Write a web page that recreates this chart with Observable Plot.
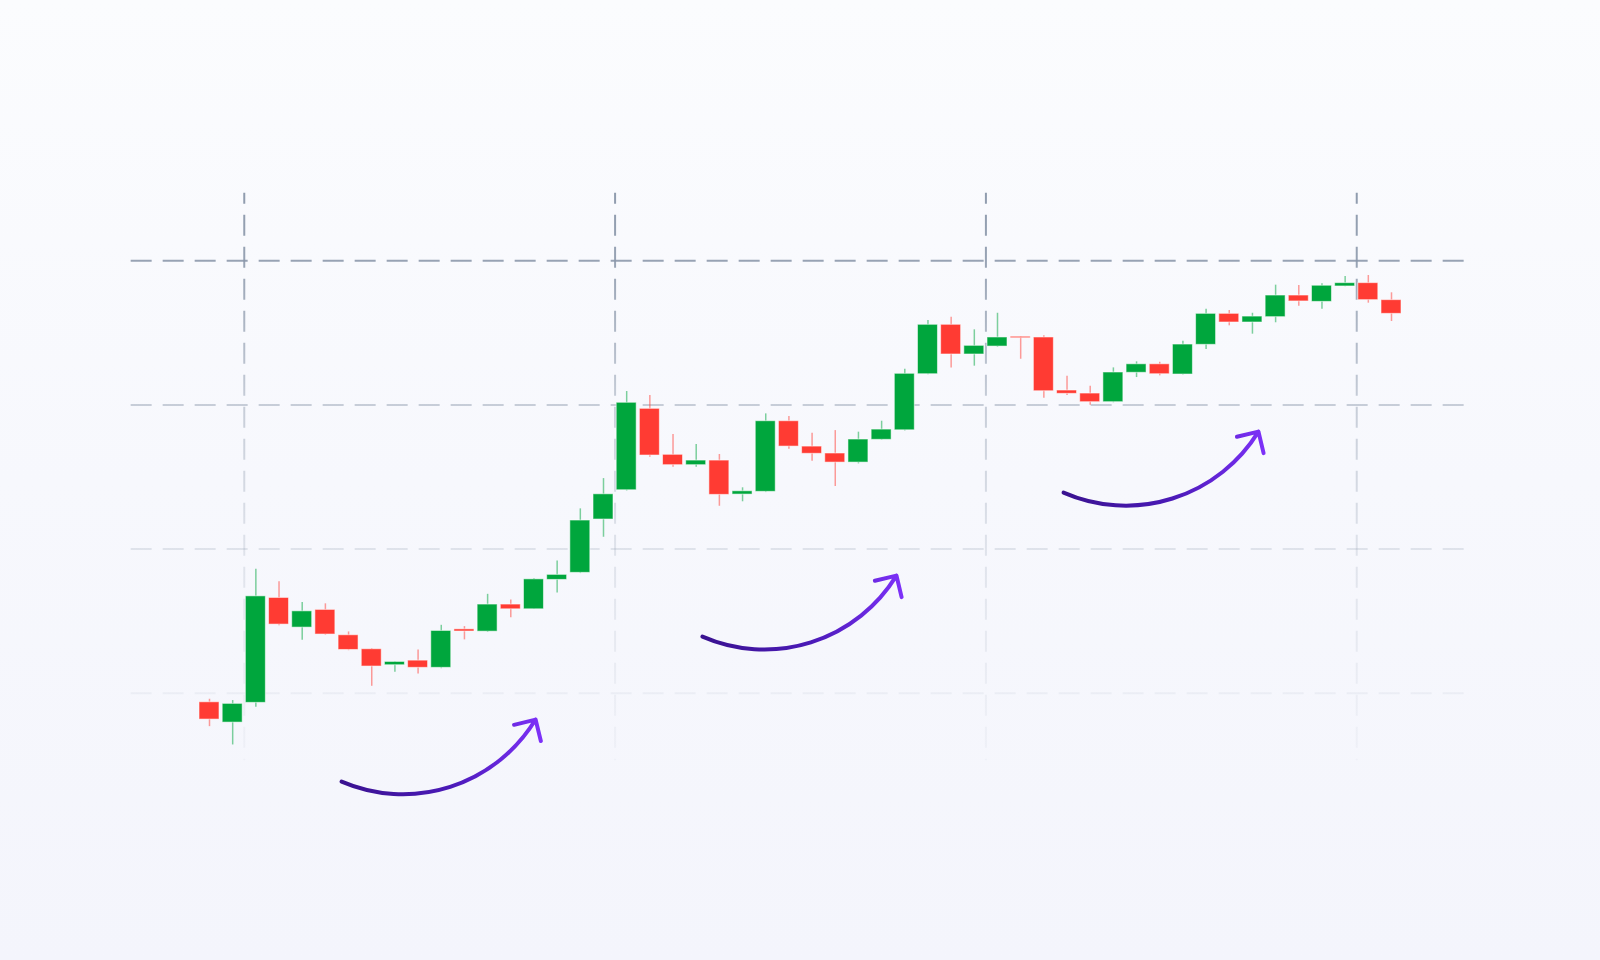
<!DOCTYPE html>
<html>
<head>
<meta charset="utf-8">
<script src="https://cdn.jsdelivr.net/npm/d3@7"></script>
<script src="https://cdn.jsdelivr.net/npm/@observablehq/plot@0.6"></script>
<style>
  html, body { margin: 0; padding: 0; width: 1600px; height: 960px; overflow: hidden; }
  body { background: linear-gradient(to bottom, #fbfcfe 0%, #f7f8fd 50%, #f4f5fc 100%); font-family: Inter, "Noto Sans", sans-serif; }
  #chart svg { display: block; }
</style>
</head>
<body>
<div id="chart"></div>
<script>
// Candle values (price units), one per session
const opens  = [93.7, 79.6, 93.3, 166.1, 145.5, 157.8, 140.2, 130.5, 119.4, 122.6, 117.6, 144.3, 142.7, 161.5, 158.2, 178.6, 183.5, 220.5, 240.8, 297.3, 265.4, 258.2, 261.4, 237.8, 239.7, 288.7, 271.1, 266.3, 260, 275.8, 282.4, 321.3, 355.6, 335, 340.5, 347.3, 346.8, 310, 307.9, 301.9, 322.3, 328.2, 321.1, 341.7, 363.2, 357.2, 360.9, 375.9, 371.5, 382.2, 384.5, 372.7];
const closes = [81.7, 92.6, 167.2, 147.6, 156.8, 140.7, 130, 118.5, 121.7, 117.6, 143.2, 142.8, 161.5, 158.2, 179, 182.1, 219.8, 238, 301.5, 264.9, 258.2, 261.4, 237.6, 240.1, 288.7, 271.1, 266.1, 260, 276, 282.9, 321.6, 355.6, 335, 341, 346.8, 346.3, 309.5, 307.7, 301.9, 322.5, 328.2, 321.3, 341.9, 363.2, 357.2, 361.3, 375.9, 371.8, 382.7, 384.5, 372.7, 363.2];
const highs  = [95.8, 94.9, 186, 177.4, 162.9, 162, 142.5, 131, 122, 130, 147.1, 146.2, 168.6, 164.7, 179.5, 191.8, 227.9, 248.9, 309.3, 306.5, 279.5, 272.5, 265.6, 242.5, 293.8, 292, 280.4, 282.2, 281.1, 288.7, 324.8, 358.6, 360.9, 352.1, 363.6, 347.5, 348, 319.9, 313, 325.7, 329.9, 329.6, 344.2, 366.4, 365.5, 363.6, 383.1, 382.9, 384, 389.1, 389.8, 377.8];
const lows   = [76.8, 64.1, 90.2, 146.8, 136.7, 140.2, 129.5, 104.8, 114.5, 113.4, 117, 137, 142.2, 152.3, 158, 169.6, 183, 208.2, 240.3, 263.7, 256.8, 256.8, 229.7, 232.8, 239.2, 269.3, 260.9, 243.4, 259.1, 275.5, 282, 321, 325.7, 326.9, 340, 331.7, 304.7, 306.5, 299.8, 301.5, 319, 320.2, 320.8, 338.4, 354.9, 349.1, 357, 368.5, 366.4, 382, 370.6, 357.9];

// Grid (tick) positions
const yGridValues = [100, 200, 300, 400];
const xGridValues = [1.5, 17.5, 33.5, 49.5];

// Trend arrows (annotation anchors, in data units: session index, price)
const arrowStartX = [5.70, 21.27, 36.85];
const arrowStartY = [38.7, 139.3, 239.2];
const arrowEndX   = [14.07, 29.64, 45.26];
const arrowEndY   = [81.7, 181.6, 281.5];

const GREEN = "#00a63d";
const RED = "#ff3b33";

const candles = opens.map((o, i) => ({
  i, open: o, close: closes[i], high: highs[i], low: lows[i],
  up: closes[i] >= o
}));
const arrows = arrowStartX.map((x, k) => ({x1: x, y1: arrowStartY[k], x2: arrowEndX[k], y2: arrowEndY[k]}));

const gridX1 = -3.38, gridX2 = 54.41;   // horizontal grid extent (session index)
const gridYTop = 446.9, gridYBottom = 53.2; // vertical grid extent (price)

const chart = Plot.plot({
  width: 1600,
  height: 960,
  style: {background: "transparent", overflow: "visible"},
  x: {domain: [0, 51], range: [209, 1391], axis: null},
  y: {domain: [100, 400], range: [692.7, 260.3], axis: null},
  marks: [
    Plot.ruleY(yGridValues, {
      y: d => d, x1: () => gridX1, x2: () => gridX2,
      stroke: "url(#gridGrad)", strokeWidth: 2, strokeDasharray: "21 11"
    }),
    Plot.ruleX(xGridValues, {
      x: d => d, y1: () => gridYTop, y2: () => gridYBottom,
      stroke: "url(#gridGrad)", strokeWidth: 2, strokeDasharray: "21 11", strokeDashoffset: 10
    }),
    Plot.ruleX(candles, {
      x: "i", y1: "low", y2: "high",
      stroke: d => d.up ? GREEN : RED, strokeOpacity: 0.5, strokeWidth: 1.5
    }),
    Plot.rect(candles, {
      x1: d => d.i - 0.5, x2: d => d.i + 0.5,
      y1: "open", y2: "close",
      insetLeft: 1.6, insetRight: 1.6,
      fill: d => d.up ? GREEN : RED,
      stroke: "white", strokeOpacity: 0.55, strokeWidth: 1
    }),
    Plot.arrow(arrows, {
      x1: "x1", y1: "y1", x2: "x2", y2: "y2",
      bend: -41, headLength: 8.3, headAngle: 90,
      stroke: "url(#arrowGrad)", strokeWidth: 4, strokeLinecap: "round", strokeLinejoin: "round"
    })
  ]
});

const ns = "http://www.w3.org/2000/svg";
const defs = document.createElementNS(ns, "defs");
defs.innerHTML = `
  <linearGradient id="gridGrad" gradientUnits="userSpaceOnUse" x1="0" y1="192" x2="0" y2="760">
    <stop offset="0" stop-color="#8a97aa" stop-opacity="0.95"/>
    <stop offset="0.12" stop-color="#8a97aa" stop-opacity="0.88"/>
    <stop offset="0.37" stop-color="#8a97aa" stop-opacity="0.45"/>
    <stop offset="0.63" stop-color="#8a97aa" stop-opacity="0.22"/>
    <stop offset="0.88" stop-color="#8a97aa" stop-opacity="0.1"/>
    <stop offset="1" stop-color="#8a97aa" stop-opacity="0.06"/>
  </linearGradient>
  <linearGradient id="arrowGrad" x1="0" y1="0" x2="1" y2="0">
    <stop offset="0" stop-color="#3a1290"/>
    <stop offset="0.55" stop-color="#4b1ab8"/>
    <stop offset="1" stop-color="#7d31f8"/>
  </linearGradient>`;
chart.insertBefore(defs, chart.firstChild);
document.getElementById("chart").appendChild(chart);
</script>
</body>
</html>
